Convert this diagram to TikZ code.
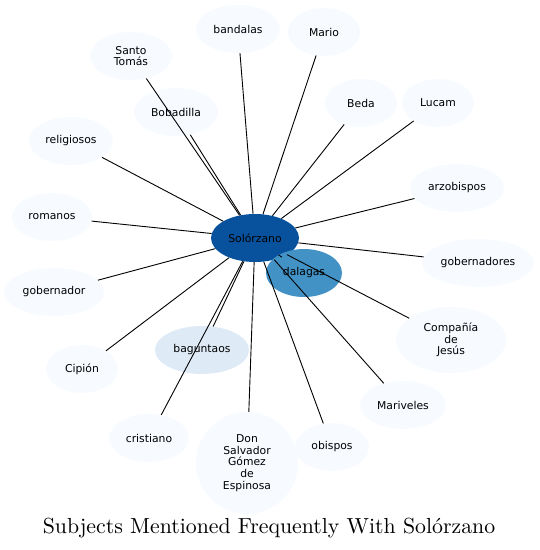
\documentclass[tikz,border=0pt]{standalone}
\usepackage{fontspec}
\setmainfont{DejaVu Sans}
\newfontfamily\titlefont{lmroman10-regular.otf}
\usetikzlibrary{shapes.geometric}
\definecolor{cdark}{HTML}{08519C}
\definecolor{cmid}{HTML}{4292C6}
\definecolor{clight}{HTML}{DEEBF7}
\definecolor{cpale}{HTML}{F7FBFF}
\tikzset{
  nd/.style={ellipse, fill=cpale, inner sep=0pt, align=center, font=\fontsize{10.8}{11.7}\selectfont},
  edg/.style={draw=black, line width=0.9pt}
}
\begin{document}
\begin{tikzpicture}[x=1pt,y=1pt]
\useasboundingbox (0,0) rectangle (540,550);
\node[nd, fill=cdark, minimum width=88, minimum height=48] (sol) at (255,312) {Solórzano};
\node[nd, fill=cmid, minimum width=76, minimum height=48] (dal) at (304,277) {dalagas};
\node[nd, fill=clight, minimum width=94, minimum height=48] (bag) at (202,200) {baguntaos};
\node[nd, minimum width=84, minimum height=48] (ban) at (238,521) {bandalas};
\node[nd, minimum width=72, minimum height=48] (mar) at (324,518) {Mario};
\node[nd, minimum width=82, minimum height=48] (sto) at (131,494) {Santo\\Tomás};
\node[nd, minimum width=84, minimum height=48] (bob) at (176,438) {Bobadilla};
\node[nd, minimum width=72, minimum height=48] (bed) at (361,447) {Beda};
\node[nd, minimum width=72, minimum height=48] (luc) at (438,447) {Lucam};
\node[nd, minimum width=84, minimum height=48] (rel) at (71,409) {religiosos};
\node[nd, minimum width=94, minimum height=48] (arz) at (457,362) {arzobispos};
\node[nd, minimum width=80, minimum height=48] (rom) at (52,333) {romanos};
\node[nd, minimum width=112, minimum height=48] (gbs) at (478,287) {gobernadores};
\node[nd, minimum width=100, minimum height=48] (gob) at (54,258) {gobernador};
\node[nd, minimum width=110, minimum height=66] (com) at (451,210) {Compañía\\de\\Jesús};
\node[nd, minimum width=72, minimum height=48] (cip) at (82,181) {Cipión};
\node[nd, minimum width=86, minimum height=48] (mrv) at (403,145) {Mariveles};
\node[nd, minimum width=80, minimum height=48] (cri) at (149,112) {cristiano};
\node[nd, minimum width=102, minimum height=102] (don) at (247,87) {Don\\Salvador\\Gómez\\de\\Espinosa};
\node[nd, minimum width=74, minimum height=48] (obi) at (332,103) {obispos};
\foreach \t in {dal,bag,ban,mar,sto,bob,bed,luc,rel,arz,rom,gbs,gob,com,cip,mrv,cri,don,obi}
  \draw[edg] (sol) -- (\t);
\node[font=\titlefont\fontsize{21.8}{24}\selectfont, inner sep=0pt] (title) at (269,22) {Subjects Mentioned Frequently With Solórzano};
\end{tikzpicture}
\end{document}
